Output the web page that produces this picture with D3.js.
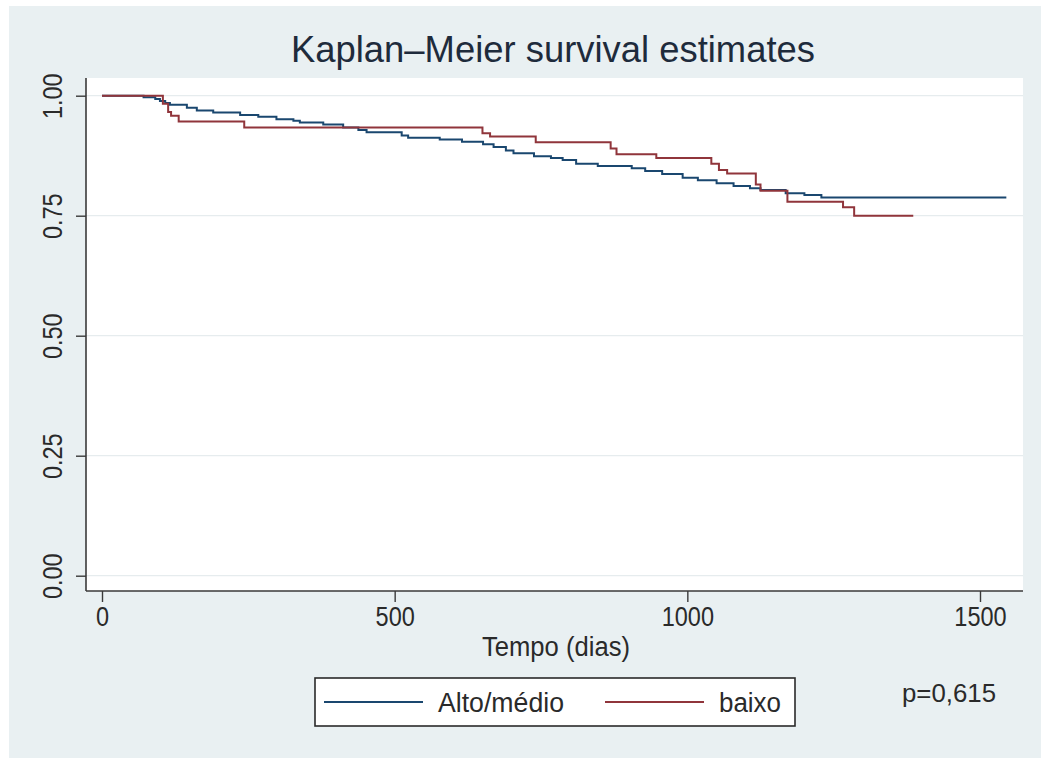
<!DOCTYPE html>
<html lang="pt">
<head>
  <meta charset="UTF-8">
  <title>Kaplan-Meier survival estimates</title>
  <script src="https://d3js.org/d3.v7.min.js"></script>
  <style>
    body {
      margin: 0;
      background: #ffffff;
      font-family: "Liberation Sans", Arial, sans-serif;
    }
    .tick line {
      stroke: #3a3a3a;
      stroke-width: 1.4px;
    }
    .tick text {
      fill: #2a2a2a;
      font-size: 27px;
    }
  </style>
</head>
<body>
  <svg id="chart"></svg>

  <script>
    // Step data (time in days, survival probability)
    const altoTimes = [0, 71, 91, 99, 108, 116, 145, 162, 190, 236, 267, 298, 327, 338, 378, 412, 438, 452, 512, 523, 577, 615, 651, 669, 690, 703, 738, 767, 787, 810, 847, 905, 928, 957, 992, 1018, 1050, 1079, 1107, 1125, 1168, 1200, 1229, 1545];
    const altoSurv  = [1, 0.997, 0.993, 0.989, 0.985, 0.981, 0.975, 0.969, 0.965, 0.960, 0.956, 0.951, 0.948, 0.944, 0.940, 0.934, 0.9285, 0.924, 0.917, 0.9125, 0.909, 0.904, 0.899, 0.893, 0.886, 0.880, 0.874, 0.870, 0.866, 0.858, 0.8535, 0.849, 0.843, 0.837, 0.829, 0.824, 0.8175, 0.812, 0.807, 0.8035, 0.797, 0.793, 0.788, 0.788];

    const baixoTimes = [0, 104, 113, 118, 131, 243, 650, 663, 741, 869, 879, 947, 1041, 1054, 1068, 1117, 1125, 1171, 1266, 1285, 1386];
    const baixoSurv  = [1, 0.983, 0.966, 0.958, 0.946, 0.934, 0.922, 0.915, 0.903, 0.890, 0.878, 0.870, 0.858, 0.845, 0.838, 0.815, 0.802, 0.779, 0.7675, 0.75, 0.75];

    const xTicks = [0, 500, 1000, 1500];
    const yTicks = [0, 0.25, 0.5, 0.75, 1];

    const seriesNames = ["Alto/médio", "baixo"];
    const seriesColors = ["#1a476f", "#90353b"];

    const W = 1041, H = 758;
    const plot = {left: 86, right: 1023, top: 78, bottom: 591};

    const svg = d3.select("#chart")
      .attr("width", W)
      .attr("height", H);

    // graph region (Stata light bluish gray)
    svg.append("rect")
      .attr("x", 9).attr("y", 6)
      .attr("width", W - 9).attr("height", H - 6)
      .attr("fill", "#e9f0f2");

    // plot region
    svg.append("rect")
      .attr("x", plot.left).attr("y", plot.top)
      .attr("width", plot.right - plot.left)
      .attr("height", plot.bottom - plot.top)
      .attr("fill", "#ffffff");

    const x = d3.scaleLinear().domain([0, 1500]).range([102, 980]);
    const y = d3.scaleLinear().domain([0, 1]).range([575.7, 95.7]);

    // grid lines
    svg.append("g")
      .selectAll("line")
      .data(yTicks)
      .join("line")
      .attr("x1", plot.left).attr("x2", plot.right)
      .attr("y1", d => y(d)).attr("y2", d => y(d))
      .attr("stroke", "#e6ecee")
      .attr("stroke-width", 1.2);

    // step curves
    const line = d3.line()
      .x(d => x(d[0]))
      .y(d => y(d[1]))
      .curve(d3.curveStepAfter);

    const altoData = altoTimes.map((t, i) => [t, altoSurv[i]]);
    const baixoData = baixoTimes.map((t, i) => [t, baixoSurv[i]]);

    [altoData, baixoData].forEach((data, i) => {
      svg.append("path")
        .datum(data)
        .attr("fill", "none")
        .attr("stroke", seriesColors[i])
        .attr("stroke-width", 2)
        .attr("d", line);
    });

    // axes
    const xAxis = svg.append("g")
      .attr("transform", `translate(0,${plot.bottom})`)
      .call(d3.axisBottom(x).tickValues(xTicks).tickFormat(d3.format("d")).tickSize(11).tickPadding(5));
    xAxis.select(".domain").remove();

    const yAxis = svg.append("g")
      .attr("transform", `translate(${plot.left},0)`)
      .call(d3.axisLeft(y).tickValues(yTicks).tickFormat(d3.format(".2f")).tickSize(10));
    yAxis.select(".domain").remove();
    yAxis.selectAll(".tick text")
      .attr("x", 0)
      .attr("dy", 0)
      .attr("text-anchor", "middle")
      .attr("transform", "translate(-24,0) rotate(-90)");

    // narrow the tick labels a bit, like the original font
    svg.selectAll(".tick text").each(function() {
      const len = this.getComputedTextLength();
      d3.select(this)
        .attr("textLength", len * 0.87)
        .attr("lengthAdjust", "spacingAndGlyphs");
    });

    svg.append("line")
      .attr("x1", plot.left).attr("x2", plot.left)
      .attr("y1", plot.top).attr("y2", plot.bottom)
      .attr("stroke", "#3a3a3a").attr("stroke-width", 1.6);
    svg.append("line")
      .attr("x1", plot.left).attr("x2", plot.right)
      .attr("y1", plot.bottom).attr("y2", plot.bottom)
      .attr("stroke", "#3a3a3a").attr("stroke-width", 1.6);

    // title and axis title
    svg.append("text")
      .attr("x", 553).attr("y", 62)
      .attr("text-anchor", "middle")
      .attr("font-size", 37)
      .attr("fill", "#1e2b3c")
      .attr("textLength", 524)
      .attr("lengthAdjust", "spacingAndGlyphs")
      .text("Kaplan–Meier survival estimates");

    svg.append("text")
      .attr("x", 556).attr("y", 656)
      .attr("text-anchor", "middle")
      .attr("font-size", 27)
      .attr("fill", "#2a2a2a")
      .attr("textLength", 148)
      .attr("lengthAdjust", "spacingAndGlyphs")
      .text("Tempo (dias)");

    // legend
    const legend = svg.append("g");
    legend.append("rect")
      .attr("x", 315).attr("y", 678)
      .attr("width", 480).attr("height", 48)
      .attr("fill", "#ffffff")
      .attr("stroke", "#2a2a2a")
      .attr("stroke-width", 1.6);

    const legendItems = [
      {x1: 324, x2: 423, tx: 438, len: 126},
      {x1: 605, x2: 704, tx: 719, len: 62}
    ];
    legendItems.forEach((it, i) => {
      legend.append("line")
        .attr("x1", it.x1).attr("x2", it.x2)
        .attr("y1", 702).attr("y2", 702)
        .attr("stroke", seriesColors[i])
        .attr("stroke-width", 2);
      legend.append("text")
        .attr("x", it.tx).attr("y", 712)
        .attr("font-size", 27)
        .attr("fill", "#2a2a2a")
        .attr("textLength", it.len)
        .attr("lengthAdjust", "spacingAndGlyphs")
        .text(seriesNames[i]);
    });

    svg.append("text")
      .attr("x", 902).attr("y", 702)
      .attr("font-size", 26)
      .attr("fill", "#2a2a2a")
      .attr("textLength", 94)
      .attr("lengthAdjust", "spacingAndGlyphs")
      .text("p=0,615");
  </script>
</body>
</html>
